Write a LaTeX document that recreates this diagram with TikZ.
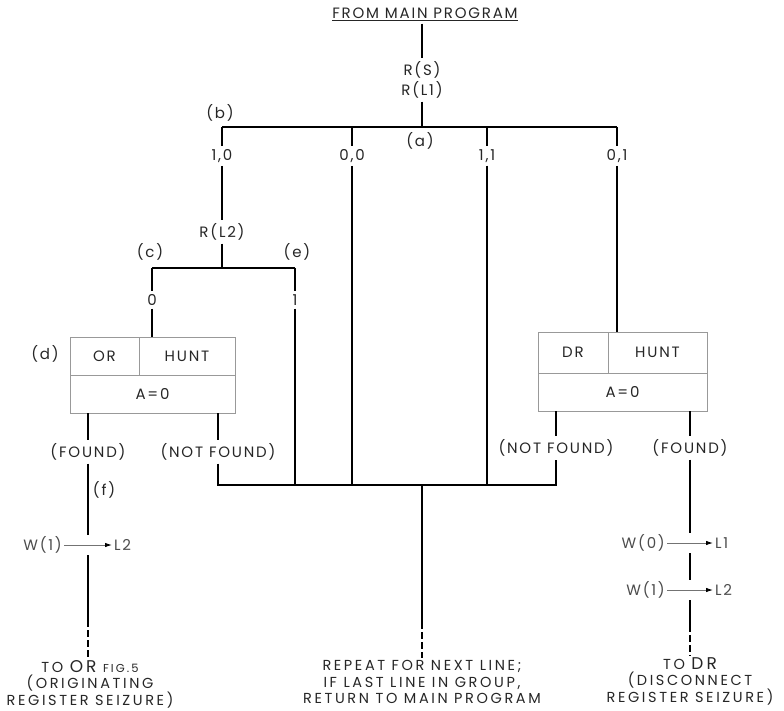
\documentclass[tikz,border=0pt]{standalone}
\usepackage{fontspec}
\setmainfont{Poppins}[LetterSpace=12]
\usetikzlibrary{arrows.meta}
\begin{document}
\begin{tikzpicture}[x=1pt,y=-1pt,
  lbl/.style={font=\fontsize{15}{17}\selectfont, inner sep=3pt, text=black!85},
  fl/.style={line width=2.8pt, black},
  dsh/.style={line width=2.8pt, black, dash pattern=on 7pt off 3pt},
  cell/.style={draw=black!40, line width=0.9pt, inner sep=0pt, font=\fontsize{15}{17}\selectfont, text=black!85},
  wl/.style={font=\fontsize{15}{17}\selectfont, inner sep=2pt, text=black!70},
  warr/.style={draw=black!55, line width=0.9pt, -{Latex[length=7pt,width=4.5pt,color=black]}},
  gap/.style={inner sep=0pt, minimum width=4pt, minimum height=20pt},
  foot/.style={font=\addfontfeature{LetterSpace=18}\fontsize{14.5}{16.5}\selectfont, align=center, text=black!85, inner sep=2pt}]
\useasboundingbox (0,0) rectangle (784,711);

% top
\node[lbl] (from) at (425,14) {\underline{FROM MAIN PROGRAM}};
\node[lbl] (rs) at (422,70) {R(S)};
\node[lbl] (rl1) at (422,90) {R(L1)};
\coordinate (ja) at (422,127);
\coordinate (jb) at (222,127);
\coordinate (j00) at (352,127);
\coordinate (j11) at (487,127);
\coordinate (j01) at (617,127);
\draw[fl] (from.south -| rs) -- (rs);
\draw[fl] (rl1) -- (ja);
\draw[fl] (jb) -- (j01);
\node[lbl] (la) at (420,141) {(a)};
\node[lbl] (lb) at (220,113) {(b)};
\node[lbl] (t10) at (222,156) {1,0};
\node[lbl] (t00) at (352,156) {0,0};
\node[lbl] (t11) at (487,156) {1,1};
\node[lbl] (t01) at (617,156) {0,1};
\draw[fl] (jb) -- (t10);
\draw[fl] (j00) -- (t00);
\draw[fl] (j11) -- (t11);
\draw[fl] (j01) -- (t01);

% left branch
\node[lbl] (rl2) at (222,232) {R(L2)};
\draw[fl] (t10) -- (rl2);
\coordinate (jr) at (222,268);
\coordinate (jc) at (152,268);
\coordinate (je) at (295,268);
\draw[fl] (rl2) -- (jr);
\draw[fl] (jc) -- (je);
\node[lbl] (lc) at (150,252) {(c)};
\node[lbl] (le) at (297,252) {(e)};
\node[lbl] (t0) at (152,300) {0};
\node[lbl] (t1) at (295,300) {1};
\draw[fl] (jc) -- (t0);
\draw[fl] (je) -- (t1);

% left box
\node[cell, minimum width=69pt, minimum height=38pt] (orc) at (104.5,356) {OR};
\node[cell, minimum width=96pt, minimum height=38pt] (hunt1) at (187,356) {HUNT};
\node[cell, minimum width=165pt, minimum height=38pt] (a0l) at (152.5,394) {A=0};
\node[lbl] (ld) at (45,354) {(d)};
\draw[fl] (t0) -- (t0 |- hunt1.north);

\node[lbl] (foundL) at (88,452) {(FOUND)};
\node[lbl] (nfL) at (218,452) {(NOT FOUND)};
\draw[fl] (a0l.south -| foundL) -- (foundL);
\draw[fl] (a0l.south -| nfL) -- (nfL);
\node[lbl] (lf) at (104,490) {(f)};
\node[gap] (arrL) at (88,545) {};
\node[wl, anchor=east] (w1L) at (64,545) {W(1)};
\node[wl, anchor=west] (l2L) at (112,545) {L2};
\draw[warr] (w1L) -- (l2L);
\draw[fl] (foundL) -- (arrL);
\node[foot] (toor) at (90,684) {TO {\fontsize{17}{16}\selectfont OR} {\fontsize{11.5}{16}\selectfont FIG.5}\\(ORIGINATING\\REGISTER SEIZURE)};
\coordinate (dL) at (88,620);
\draw[fl] (arrL) -- (dL);
\draw[dsh] (dL) -- (dL |- toor.north);

% right box
\node[cell, minimum width=70pt, minimum height=41pt] (drc) at (573,352.5) {DR};
\node[cell, minimum width=99pt, minimum height=41pt] (hunt2) at (657.5,352.5) {HUNT};
\node[cell, minimum width=169pt, minimum height=38pt] (a0r) at (622.5,392) {A=0};
\draw[fl] (t01) -- (t01 |- hunt2.north);

\node[lbl] (nfR) at (556,448) {(NOT FOUND)};
\node[lbl] (foundR) at (690,448) {(FOUND)};
\draw[fl] (a0r.south -| nfR) -- (nfR);
\draw[fl] (a0r.south -| foundR) -- (foundR);
\node[gap] (arrR1) at (690,543) {};
\node[gap] (arrR2) at (690,590) {};
\node[wl, anchor=east] (w0R) at (667,543) {W(0)};
\node[wl, anchor=west] (l1R) at (713,543) {L1};
\node[wl, anchor=east] (w1R) at (667,590) {W(1)};
\node[wl, anchor=west] (l2R) at (713,590) {L2};
\draw[warr] (w0R) -- (l1R);
\draw[warr] (w1R) -- (l2R);
\draw[fl] (foundR) -- (arrR1);
\draw[fl] (arrR1) -- (arrR2);
\node[foot] (todr) at (690,681) {TO {\fontsize{17}{16}\selectfont DR}\\(DISCONNECT\\REGISTER SEIZURE)};
\coordinate (dR) at (690,625);
\draw[fl] (arrR2) -- (dR);
\draw[dsh] (dR) -- (dR |- todr.north);

% merge bar
\coordinate (m1) at (218,485);
\coordinate (m2) at (295,485);
\coordinate (m3) at (352,485);
\coordinate (mc) at (422,485);
\coordinate (m4) at (487,485);
\coordinate (m5) at (556,485);
\draw[fl] (nfL) -- (m1) -- (m5) -- (nfR);
\draw[fl] (t1) -- (m2);
\draw[fl] (t00) -- (m3);
\draw[fl] (t11) -- (m4);
\node[foot] (rep) at (422,682) {REPEAT FOR NEXT LINE;\\IF LAST LINE IN GROUP,\\RETURN TO MAIN PROGRAM};
\coordinate (dC) at (422,622);
\draw[fl] (mc) -- (dC);
\draw[dsh] (dC) -- (dC |- rep.north);
\end{tikzpicture}
\end{document}
